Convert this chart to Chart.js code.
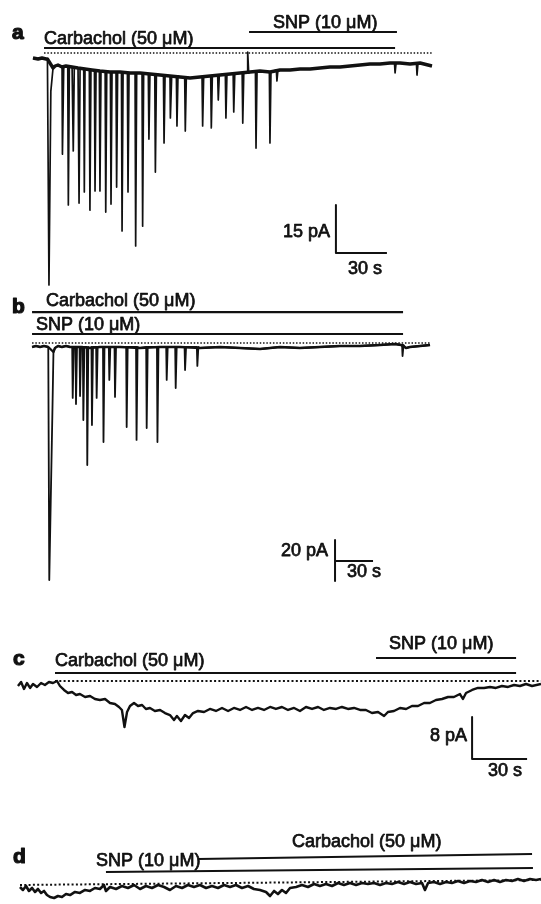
<!DOCTYPE html>
<html>
<head>
<meta charset="utf-8">
<script src="https://cdn.jsdelivr.net/npm/chart.js@4.4.0/dist/chart.umd.min.js"></script>
<style>
html, body { margin: 0; padding: 0; background: #fff; }
#container { position: relative; width: 541px; height: 904px; overflow: hidden; }
canvas { position: absolute; left: 0; }
</style>
</head>
<body>
<div id="container"></div>
<script>
// ---- panel a : carbachol, then SNP added (time in s, current in pA) ----
const aTraceT = [19.4, 22.4, 24.7, 27.1, 27.9, 28.8, 29.9, 31.2, 32.4, 34.1, 36.5, 38.8, 42.4, 45.9, 50.0, 54.1, 58.8, 64.7, 70.6, 76.5, 82.4, 88.2, 94.1, 100.0, 105.9, 111.8, 117.6, 123.5, 129.4, 135.3, 141.2, 147.1, 152.9, 158.8, 164.7, 170.6, 176.5, 182.4, 188.2, 194.1, 200.0, 205.9, 211.8, 217.6, 223.5, 229.4, 235.3, 241.2, 247.1, 254.1]
const aTraceI = [-1.56, -1.88, -1.56, -1.88, -1.88, -72.5, -12.0, -4.69, -4.06, -3.75, -4.38, -4.06, -4.38, -4.69, -5.0, -5.31, -5.63, -5.94, -5.94, -6.25, -6.25, -6.56, -6.88, -7.19, -7.5, -7.81, -7.5, -7.19, -6.88, -6.56, -6.25, -5.94, -5.63, -5.94, -5.31, -5.31, -5.0, -5.0, -4.69, -4.38, -4.38, -4.06, -3.75, -3.44, -3.44, -3.13, -3.13, -3.44, -3.13, -4.06]
const aSpikeT = [36.9, 40.2, 43.1, 46.5, 49.6, 52.9, 55.9, 58.8, 62.2, 65.3, 68.6, 71.8, 75.3, 79.8, 83.9, 87.6, 91.4, 96.5, 100.4, 104.1, 109.0, 119.2, 124.3, 128.4, 132.9, 137.5, 142.8, 145.7, 150.6, 158.8, 162.9, 232.4, 245.3]
const aSpikeI = [-31.6, -47.5, -30.6, -46.9, -43.4, -49.1, -43.1, -43.1, -49.7, -47.2, -41.9, -55.6, -43.4, -60.3, -54.1, -26.9, -37.2, -28.1, -20.3, -22.8, -24.4, -22.8, -23.4, -14.7, -20.3, -18.4, -21.9, 0.3, -29.7, -28.1, -8.75, -6.25, -6.9]
const aSpikeBase = [-4.06, -4.06, -4.38, -4.69, -5.0, -5.31, -5.31, -5.63, -5.63, -5.94, -5.94, -5.94, -6.25, -6.25, -6.25, -6.56, -6.56, -6.88, -7.19, -7.19, -7.5, -7.5, -7.19, -6.88, -6.56, -6.56, -6.25, -6.25, -5.94, -5.94, -5.31, -3.13, -3.13]
const aDrugNames = ['Carbachol (50 μM)', 'SNP (10 μM)']
const aDrugOn = [25.9, 146.5]
const aDrugOff = [232.4, 233.5]
const aScale = [15, 30] // pA, s

// ---- panel b : SNP and carbachol together ----
const bTraceT = [25.3, 28.4, 31.6, 34.7, 38.1, 38.9, 41.4, 42.2, 43.4, 45.8, 48.9, 52.1, 55.3, 64.4, 71.1, 78.9, 94.7, 110.5, 126.3, 142.1, 157.9, 173.7, 189.5, 205.3, 221.1, 236.8, 252.6, 268.4, 284.2, 300.0, 311.8, 316.6, 320.5, 323.7, 331.6, 339.5]
const bTraceI = [-1.95, -1.46, -1.95, -1.46, -1.95, -115.6, -32.7, -4.39, -2.44, -1.46, -1.95, -1.46, -1.95, -1.95, -2.44, -1.95, -1.95, -2.44, -1.95, -1.95, -2.44, -1.95, -2.44, -2.93, -1.95, -2.44, -1.95, -1.46, -1.46, -0.98, -0.49, -0.98, -2.44, -1.95, -1.46, -0.98]
const bSpikeT = [57.4, 60.0, 63.2, 65.8, 68.9, 72.6, 76.3, 81.7, 86.3, 90.8, 100.0, 107.8, 115.8, 124.3, 131.6, 138.7, 146.1, 155.8, 317.8]
const bSpikeI = [-26.8, -29.8, -25.9, -37.6, -59.5, -40.0, -26.8, -48.3, -18.0, -26.3, -41.0, -47.3, -41.5, -48.3, -18.0, -22.0, -13.2, -11.2, -6.34]
const bSpikeBase = [-1.95, -1.95, -1.95, -1.95, -1.95, -1.95, -1.95, -1.95, -1.95, -1.95, -1.95, -1.95, -1.95, -1.95, -1.95, -1.95, -1.95, -1.95, -0.98]
const bDrugNames = ['Carbachol (50 μM)', 'SNP (10 μM)']
const bDrugOn = [25.3, 25.3]
const bDrugOff = [318.2, 318.2]
const bScale = [20, 30]

// ---- panel c : slow carbachol current, reversed by SNP ----
const cTraceT = [9.8, 11.5, 13.1, 14.7, 16.4, 18.0, 20.2, 22.4, 24.5, 26.7, 28.9, 31.1, 32.7, 34.9, 37.1, 39.3, 41.5, 43.6, 46.4, 49.1, 51.8, 54.5, 57.3, 60.0, 62.7, 64.9, 66.5, 67.9, 69.3, 70.9, 73.1, 75.3, 77.5, 79.6, 81.8, 84.5, 87.3, 90.0, 92.7, 94.9, 96.5, 98.7, 100.9, 103.1, 105.3, 108.0, 111.3, 114.5, 117.8, 121.1, 124.4, 127.6, 130.9, 134.2, 137.5, 140.7, 144.0, 147.3, 150.5, 153.8, 157.1, 160.4, 163.6, 166.9, 170.2, 173.5, 176.7, 180.0, 183.3, 186.5, 189.8, 193.1, 196.4, 199.6, 202.9, 206.2, 209.5, 211.6, 214.9, 218.2, 221.5, 224.7, 228.0, 231.3, 234.5, 237.8, 241.1, 244.4, 247.6, 250.9, 252.5, 254.2, 257.5, 260.7, 264.0, 267.3, 270.5, 273.8, 277.1, 280.4, 283.6, 286.9, 290.2, 295.1]
const cTraceI = [-0.95, -0.19, -1.52, -0.38, -1.33, -0.57, -1.14, -0.38, -0.76, -0.19, -0.38, 0, -0.95, -1.71, -2.29, -2.10, -2.67, -2.48, -3.05, -2.86, -3.43, -3.62, -3.43, -4.19, -4.38, -4.95, -5.52, -8.76, -5.9, -4.76, -4.19, -4.76, -4.57, -5.33, -5.14, -5.71, -5.52, -6.10, -6.48, -7.43, -6.67, -7.62, -6.48, -7.05, -6.10, -5.71, -5.90, -5.33, -5.71, -5.14, -5.71, -5.14, -5.52, -4.95, -5.52, -5.14, -5.52, -4.95, -5.33, -4.95, -5.52, -5.14, -5.71, -4.95, -5.33, -4.95, -5.52, -5.14, -5.33, -4.95, -5.33, -5.14, -5.52, -5.52, -6.10, -5.90, -6.67, -5.90, -5.71, -5.14, -5.33, -4.76, -4.76, -4.19, -4.19, -3.62, -3.43, -3.05, -3.05, -2.48, -3.43, -2.29, -1.71, -1.33, -1.33, -1.14, -1.33, -0.95, -1.14, -0.76, -0.95, -0.57, -0.95, -0.57]
const cDrugNames = ['Carbachol (50 μM)', 'SNP (10 μM)']
const cDrugOn = [30.0, 205.1]
const cDrugOff = [281.5, 281.5]
const cScale = [8, 30]

// ---- panel d : SNP first, then carbachol ----
const dTraceT = [10.9, 12.5, 14.2, 15.8, 17.5, 19.1, 20.7, 22.4, 24.0, 25.6, 27.3, 29.5, 31.6, 33.8, 36.0, 38.2, 40.9, 43.6, 46.4, 49.1, 51.8, 54.5, 56.7, 57.8, 60.0, 63.3, 66.5, 69.8, 73.1, 76.4, 79.6, 82.9, 86.2, 89.5, 92.7, 96.0, 99.3, 102.5, 105.8, 109.1, 112.4, 115.6, 118.9, 122.2, 125.5, 128.7, 132.0, 135.3, 138.5, 141.8, 145.1, 147.3, 149.5, 151.6, 153.8, 156.0, 158.2, 161.5, 164.7, 168.0, 171.3, 174.5, 177.8, 181.1, 184.4, 187.6, 190.9, 194.2, 197.5, 200.7, 204.0, 207.3, 210.5, 213.8, 217.1, 220.4, 223.6, 226.9, 230.2, 231.8, 233.5, 236.7, 240.0, 243.3, 246.5, 249.8, 253.1, 256.4, 259.6, 262.9, 266.2, 269.5, 272.7, 276.0, 279.3, 282.5, 285.8, 289.1, 292.4, 295.1]
const dTraceI = [-0.76, -1.33, -0.57, -1.52, -0.95, -1.71, -1.14, -1.90, -1.52, -2.29, -2.67, -2.86, -2.48, -2.67, -2.10, -2.29, -1.71, -1.90, -1.33, -1.52, -0.95, -1.14, -0.38, -1.52, -0.76, -1.14, -0.57, -0.95, -0.38, -1.14, -0.57, -0.95, -0.38, -0.76, -1.33, -0.57, -0.95, -0.38, -0.76, -0.38, -0.95, -0.57, -0.95, -0.38, -0.76, -0.38, -0.95, -0.57, -1.14, -1.33, -1.71, -2.48, -1.52, -2.10, -1.33, -1.90, -0.95, -0.76, -0.38, -0.76, -0.19, -0.57, -0.19, -0.57, 0, -0.38, 0, -0.38, 0, -0.19, 0, -0.38, 0, -0.19, 0.19, -0.19, 0.19, -0.19, 0, -1.33, 0, 0.19, -0.19, 0.19, 0, 0.38, 0, 0.38, 0.19, 0.57, 0.19, 0.57, 0.19, 0.57, 0.38, 0.76, 0.38, 0.76, 0.57, 0.76]
const dDrugNames = ['SNP (10 μM)', 'Carbachol (50 μM)']
const dDrugOn = [57.8, 108.0]
const dDrugOff = [290.7, 290.2]

const INK = '#111'
const FONT = '18px "Liberation Sans", Arial, sans-serif'
const BOLD = 'bold 21px "Liberation Sans", Arial, sans-serif'

// trace + spikes merged in time order
const buildTrace = function(tt, ii, st, si, sb, pre, post) {
	const pts = tt.map((t, k) => ({x: t, y: ii[k]}))
	st.forEach((t, k) => {
		pts.push({x: t - pre, y: sb[k]}, {x: t, y: si[k]}, {x: t + post, y: sb[k]})
	})
	return pts.sort((p, q) => p.x - q.x)
}

const textPlugin = function(items) {
	return {
		id: 'panelText',
		afterDatasetsDraw(chart) {
			const {ctx, scales} = chart
			ctx.save()
			ctx.fillStyle = INK
			ctx.strokeStyle = INK
			ctx.lineJoin = 'round'
			items.forEach(it => {
				ctx.font = it.bold ? BOLD : FONT
				ctx.lineWidth = it.bold ? 1.2 : 0.75
				ctx.textAlign = it.align || 'left'
				ctx.textBaseline = 'alphabetic'
				const px = scales.x.getPixelForValue(it.t)
				const py = scales.y.getPixelForValue(it.i)
				ctx.fillText(it.text, px, py)
				ctx.strokeText(it.text, px, py)
			})
			ctx.restore()
		}
	}
}

const line = (data, width, dash) => ({
	data: data, borderColor: INK, borderWidth: width, borderDash: dash || [],
	pointRadius: 0, tension: 0, fill: false, borderJoinStyle: 'round', borderCapStyle: 'butt'
})

const renderPanel = function(p) {
	const canvas = document.createElement('canvas')
	canvas.width = 541
	canvas.height = p.height
	canvas.style.top = p.top + 'px'
	document.getElementById('container').appendChild(canvas)

	const datasets = []
	if (p.base) datasets.push(line(p.base, p.baseWidth))
	datasets.push(line(p.trace, p.traceWidth))
	datasets.push(line([{x: p.dotted[0], y: p.dotted[2]}, {x: p.dotted[1], y: p.dotted[3]}], p.dotWidth, p.dash))
	p.drugOn.forEach((on, k) => {
		const lv = p.barLevels[k]
		datasets.push(line([{x: on, y: lv[0]}, {x: p.drugOff[k], y: lv[1]}], 2.2))
	})
	if (p.scale) {
		const s = p.scale
		datasets.push(line([{x: s.t, y: s.top}, {x: s.t, y: s.top - s.pA}], 2))
		datasets.push(line([{x: s.t, y: s.hAt}, {x: s.t + s.s, y: s.hAt}], 2))
	}

	new Chart(canvas, {
		type: 'line',
		data: {datasets: datasets},
		options: {
			responsive: false, animation: false, devicePixelRatio: 1, events: [],
			layout: {padding: 0},
			scales: {
				x: {type: 'linear', display: false, min: 0, max: 541 / p.pxPerS},
				y: {type: 'linear', display: false, min: (p.zeroY - p.height) / p.pxPerPA, max: p.zeroY / p.pxPerPA}
			},
			plugins: {legend: {display: false}, tooltip: {enabled: false}}
		},
		plugins: [textPlugin(p.texts)]
	})
}

renderPanel({
	top: 0, height: 290, zeroY: 53, pxPerPA: 3.2, pxPerS: 1.7,
	trace: buildTrace(aTraceT, aTraceI, aSpikeT, aSpikeI, aSpikeBase, 0.35, 0.6), traceWidth: 1.7,
	base: aTraceT.filter((t, k) => k < 5 || k > 6).map(t => ({x: t, y: aTraceI[aTraceT.indexOf(t)]})), baseWidth: 3.4,
	dotted: [25.9, 254.1, 0, 0], dotWidth: 1.5, dash: [1.5, 1.8],
	drugOn: aDrugOn, drugOff: aDrugOff, barLevels: [[1.56, 1.56], [6.56, 6.56]],
	scale: {t: 197.6, top: -47.5, pA: aScale[0], s: aScale[1], hAt: -62.5},
	texts: [
		{text: 'a', t: 7.06, i: 4.38, bold: true},
		{text: aDrugNames[0], t: 25.9, i: 2.81},
		{text: aDrugNames[1], t: 160.6, i: 7.81},
		{text: aScale[0] + ' pA', t: 194.1, i: -57.5, align: 'right'},
		{text: aScale[1] + ' s', t: 204.7, i: -69.06}
	]
})

renderPanel({
	top: 280, height: 310, zeroY: 63, pxPerPA: 2.05, pxPerS: 38 / 30,
	trace: buildTrace(bTraceT, bTraceI, bSpikeT, bSpikeI, bSpikeBase, 0.4, 0.8), traceWidth: 1.8,
	base: bTraceT.filter((t, k) => k < 5 || k > 6).map(t => ({x: t, y: bTraceI[bTraceT.indexOf(t)]})), baseWidth: 2.4,
	dotted: [25.3, 339.5, 0, 0], dotWidth: 1.5, dash: [1.5, 1.8],
	drugOn: bDrugOn, drugOff: bDrugOff, barLevels: [[15.1, 15.1], [4.39, 4.39]],
	scale: {t: 264.5, top: -96.1, pA: bScale[0], s: bScale[1], hAt: -106.3},
	texts: [
		{text: 'b', t: 9.47, i: 14.63, bold: true},
		{text: bDrugNames[0], t: 36.3, i: 18.05},
		{text: bDrugNames[1], t: 28.4, i: 6.34},
		{text: bScale[0] + ' pA', t: 258.9, i: -103.9, align: 'right'},
		{text: bScale[1] + ' s', t: 274.0, i: -114.1}
	]
})

renderPanel({
	top: 600, height: 200, zeroY: 81, pxPerPA: 5.25, pxPerS: 55 / 30,
	trace: cTraceT.map((t, k) => ({x: t, y: cTraceI[k]})), traceWidth: 2.4,
	dotted: [30.0, 295.1, 0, 0], dotWidth: 2, dash: [2, 2.3],
	drugOn: cDrugOn, drugOff: cDrugOff, barLevels: [[1.52, 1.52], [4.38, 4.38]],
	scale: {t: 257.5, top: -6.86, pA: cScale[0], s: cScale[1], hAt: -14.86},
	texts: [
		{text: 'c', t: 7.09, i: 3.05, bold: true},
		{text: cDrugNames[0], t: 30.0, i: 2.95},
		{text: cDrugNames[1], t: 212.2, i: 6.1},
		{text: cScale[0] + ' pA', t: 254.7, i: -11.52, align: 'right'},
		{text: cScale[1] + ' s', t: 266.2, i: -18.19}
	]
})

renderPanel({
	top: 800, height: 104, zeroY: 83, pxPerPA: 5.25, pxPerS: 55 / 30,
	trace: dTraceT.map((t, k) => ({x: t, y: dTraceI[k]})), traceWidth: 2.6,
	dotted: [10.9, 295.1, -0.38, 0.57], dotWidth: 2, dash: [2, 2.3],
	drugOn: dDrugOn, drugOff: dDrugOff, barLevels: [[2.1, 2.86], [4.57, 5.52]],
	texts: [
		{text: 'd', t: 7.09, i: 3.81, bold: true},
		{text: dDrugNames[0], t: 52.4, i: 3.33},
		{text: dDrugNames[1], t: 159.3, i: 6.95}
	]
})
</script>
</body>
</html>
